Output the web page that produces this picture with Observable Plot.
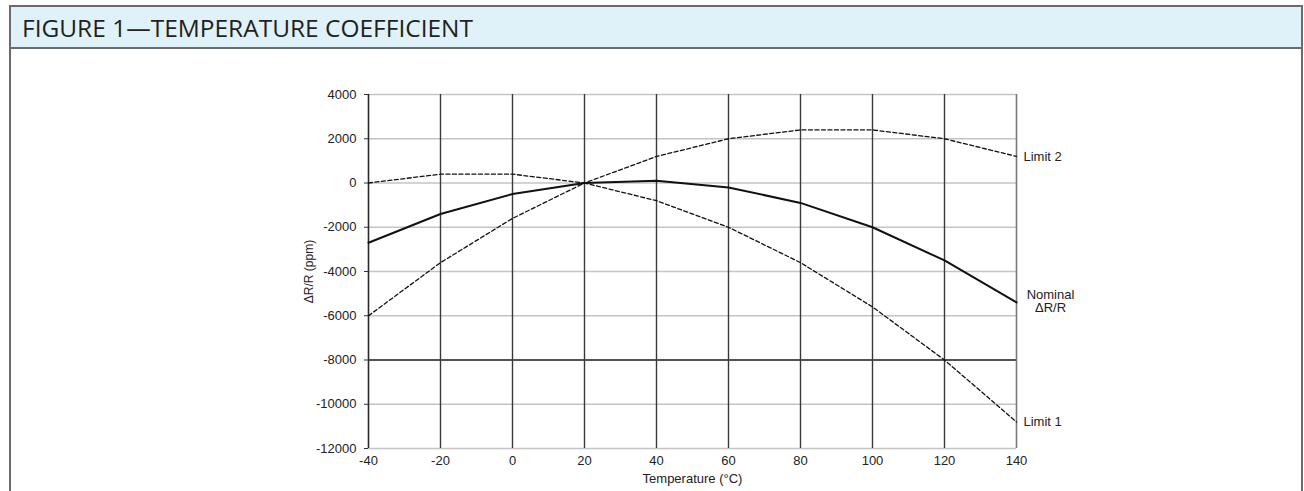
<!DOCTYPE html>
<html><head><meta charset="utf-8">
<script src="https://cdn.jsdelivr.net/npm/d3@7"></script>
<script src="https://cdn.jsdelivr.net/npm/@observablehq/plot@0.6"></script>
<style>
html,body{margin:0;padding:0;background:#fff}
body{width:1304px;height:491px;overflow:hidden;position:relative;font-family:"Liberation Sans",Arial,sans-serif}
#frame{position:absolute;left:9px;top:5px;width:1294px;height:520px;border:2px solid #6b6b6b;border-bottom:none;box-sizing:border-box}
#bar{position:absolute;left:0;top:0;right:0;height:40px;background:#e0f2f9;border-bottom:2px solid #6b6b6b}
#titlesvg{position:absolute;left:0;top:0}
#chart{position:absolute;left:0;top:50px}
</style>
</head><body>
<div id="frame"><div id="bar"></div></div>
<svg id="titlesvg" width="600" height="48"><text x="22" y="37" font-family="Open Sans, sans-serif" font-size="24" fill="#231f20" textLength="451" lengthAdjust="spacingAndGlyphs">FIGURE 1—TEMPERATURE COEFFICIENT</text></svg>
<div id="chart"></div>
<script>
const temps   = [-40, -20, 0, 20, 40, 60, 80, 100, 120, 140];
const nominal = [-2700, -1400, -500, 0, 100, -200, -900, -2000, -3500, -5400];
const limit1  = [-6000, -3600, -1600, 0, -800, -2000, -3600, -5600, -8000, -10800];
const limit2  = [0, 400, 400, 0, 1200, 2000, 2400, 2400, 2000, 1200];
const xTicks  = [-40, -20, 0, 20, 40, 60, 80, 100, 120, 140];
const yTicks  = [-12000, -10000, -8000, -6000, -4000, -2000, 0, 2000, 4000];
const seriesLabels = {nominal: "Nominal\nΔR/R", limit1: "Limit 1", limit2: "Limit 2"};
const xLabel = "Temperature (°C)";
const yLabel = "ΔR/R (ppm)";

const rows = (vals) => temps.map((t, i) => ({t, v: vals[i]}));
const nomRows = rows(nominal), l1Rows = rows(limit1), l2Rows = rows(limit2);
const last = (r) => [r[r.length - 1]];
const font = "Liberation Sans, Arial, sans-serif";

const W = 1304, H = 441;
const chart = Plot.plot({
  width: W, height: H,
  marginLeft: 368, marginRight: W - 1016, marginTop: 44, marginBottom: H - 398,
  style: {fontFamily: font, fontSize: "13px", color: "#222", background: "transparent"},
  x: {domain: [-40, 140]},
  y: {domain: [-12000, 4000]},
  marks: [
    Plot.ruleY(yTicks.filter(d => d !== -8000), {stroke: "#c4c4c4", strokeWidth: 1.6}),
    Plot.ruleY([-8000], {stroke: "#1a1a1a", strokeWidth: 1.4}),
    Plot.ruleX(xTicks.filter(d => d !== 140 && d !== -40), {stroke: "#3a3a3a", strokeWidth: 1.4}),
    Plot.ruleX([140], {stroke: "#7a7a7a", strokeWidth: 1.6}),
    Plot.ruleX([-40], {stroke: "#2a2a2a", strokeWidth: 1.6}),
    Plot.axisY({ticks: yTicks, tickSize: 4, tickPadding: 8, stroke: "#333", fill: "#222", fontSize: 13, tickFormat: d => String(d), label: null}),
    Plot.axisX({ticks: xTicks, tickSize: 0, tickPadding: 7, fill: "#222", fontSize: 13, tickFormat: d => String(d), label: null}),
    Plot.line(l2Rows, {x: "t", y: "v", stroke: "#111", strokeWidth: 1.3, strokeDasharray: "4,2.5"}),
    Plot.line(l1Rows, {x: "t", y: "v", stroke: "#111", strokeWidth: 1.3, strokeDasharray: "4,2.5"}),
    Plot.line(nomRows, {x: "t", y: "v", stroke: "#111", strokeWidth: 2}),
    Plot.text(last(l2Rows), {x: "t", y: "v", text: () => seriesLabels.limit2, textAnchor: "start", dx: 7, fill: "#222", fontSize: 13}),
    Plot.text(last(l1Rows), {x: "t", y: "v", text: () => seriesLabels.limit1, textAnchor: "start", dx: 7, fill: "#222", fontSize: 13}),
    Plot.text(last(nomRows), {x: "t", y: "v", text: () => seriesLabels.nominal, textAnchor: "middle", dx: 34, dy: -1, fill: "#222", fontSize: 13}),
    Plot.text([xLabel], {frameAnchor: "bottom", lineAnchor: "middle", textAnchor: "middle", dy: 30, fill: "#222", fontSize: 13}),
    Plot.text([yLabel], {frameAnchor: "left", rotate: -90, lineAnchor: "middle", textAnchor: "middle", dx: -59, fill: "#222", fontSize: 12})
  ]
});
document.getElementById("chart").appendChild(chart);
</script>
</body></html>
